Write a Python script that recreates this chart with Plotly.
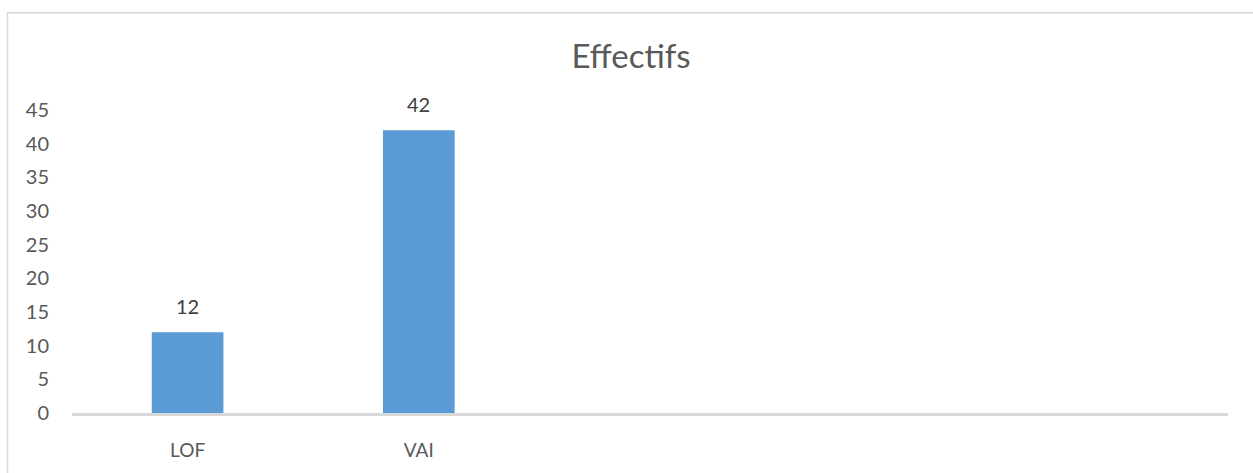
import plotly.graph_objects as go

categories = ["LOF", "VAI"]
values = [12, 42]
y_ticks = [0, 5, 10, 15, 20, 25, 30, 35, 40, 45]
title_text = "Effectifs"

W, H = 1253, 473
# plot area in window pixels: x 72..1228, y 110..417
L, R, T, B = 72, W - 1228, 110, H - 417
pw, ph = W - L - R, H - T - B

fig = go.Figure()
fig.add_trace(go.Bar(
    x=categories, y=values,
    marker=dict(color="#5B9BD5", line=dict(width=0)),
    hoverinfo="x+y",
))

for c, v in zip(categories, values):
    fig.add_annotation(x=c, y=v, text=str(v), showarrow=False,
                       yanchor="bottom", yshift=12,
                       font=dict(family="Lato", size=20, color="#404040"))

def px_to_paper_x(px):
    return (px - L) / pw

def px_to_paper_y(py):
    return (H - B - py) / ph

fig.add_shape(type="rect", xref="paper", yref="paper",
              x0=px_to_paper_x(7.5), x1=px_to_paper_x(1262),
              y0=px_to_paper_y(490), y1=px_to_paper_y(11.5),
              line=dict(color="#D9D9D9", width=1.5), fillcolor="rgba(0,0,0,0)",
              layer="below")

fig.update_layout(
    width=W, height=H,
    margin=dict(l=L, r=R, t=T, b=B, pad=0),
    paper_bgcolor="white", plot_bgcolor="white",
    bargap=0.69,
    showlegend=False,
    title=dict(text=title_text, x=631 / W, xref="container", xanchor="center",
               y=1 - 56 / H, yref="container", yanchor="middle",
               font=dict(family="Lato", size=33, color="#595959")),
    font=dict(family="Lato", color="#595959"),
    xaxis=dict(type="category", range=[-0.5, 4.5], showgrid=False, zeroline=False,
               showline=True, linecolor="#D9D9D9", linewidth=2.5,
               ticks="", tickfont=dict(family="Lato", size=19, color="#595959"),
               ticklabelstandoff=18),
    yaxis=dict(range=[0, 45], tickvals=y_ticks, showgrid=False, zeroline=False,
               showline=False, ticks="",
               tickfont=dict(family="Lato", size=20, color="#595959"),
               ticklabelstandoff=22),
)

fig.write_html(
    "out.html",
    config={"displayModeBar": False},
    post_script="document.body.style.margin='0';document.body.style.padding='0';",
)
